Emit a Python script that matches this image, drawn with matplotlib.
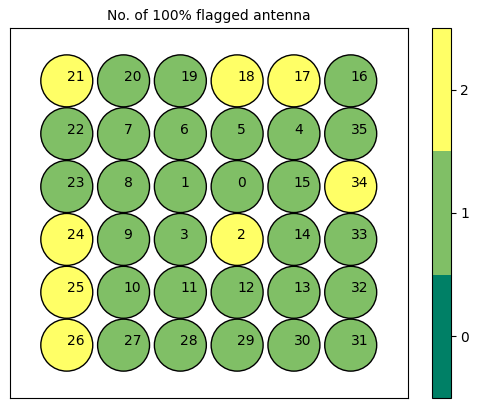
import matplotlib
matplotlib.use("Agg")
import matplotlib.pyplot as plt
import numpy as np

# Antenna layout (rows top to bottom)
layout = [
    [21, 20, 19, 18, 17, 16],
    [22, 7, 6, 5, 4, 35],
    [23, 8, 1, 0, 15, 34],
    [24, 9, 3, 2, 14, 33],
    [25, 10, 11, 12, 13, 32],
    [26, 27, 28, 29, 30, 31],
]
# Number of 100% flagged per antenna (same layout)
flagged = [
    [2, 1, 1, 2, 2, 1],
    [1, 1, 1, 1, 1, 1],
    [1, 1, 1, 1, 1, 2],
    [2, 1, 1, 2, 1, 1],
    [2, 1, 1, 1, 1, 1],
    [2, 1, 1, 1, 1, 1],
]
cbar_ticks = [0, 1, 2]
title = "No. of 100% flagged antenna"

nrows = len(layout)
ncols = len(layout[0])
xs, ys, vals, ids = [], [], [], []
for r in range(nrows):
    for c in range(ncols):
        xs.append(c)
        ys.append(nrows - 1 - r)
        vals.append(flagged[r][c])
        ids.append(layout[r][c])

fig = plt.figure(figsize=(4.78, 4.08), dpi=100)
W, H = 478, 408
ax = fig.add_axes([10 / W, 1 - 398 / H, 397.5 / W, 370 / H])
cax = fig.add_axes([432 / W, 1 - 398 / H, 18.7 / W, 370 / H])

cmap = plt.get_cmap('summer', 3)
sc = ax.scatter(xs, ys, c=vals, s=1400, cmap=cmap, vmin=-0.5, vmax=2.5,
                edgecolors='black', linewidths=1)
for x, y, i in zip(xs, ys, ids):
    ax.text(x, y, str(i), fontsize=10)

ax.set_xlim(-1, ncols)
ax.set_ylim(-1, nrows)
ax.set_xticks([])
ax.set_yticks([])
ax.set_title(title, fontsize=10)

cb = fig.colorbar(sc, cax=cax, ticks=cbar_ticks)

fig.savefig("out.png", dpi=100)
